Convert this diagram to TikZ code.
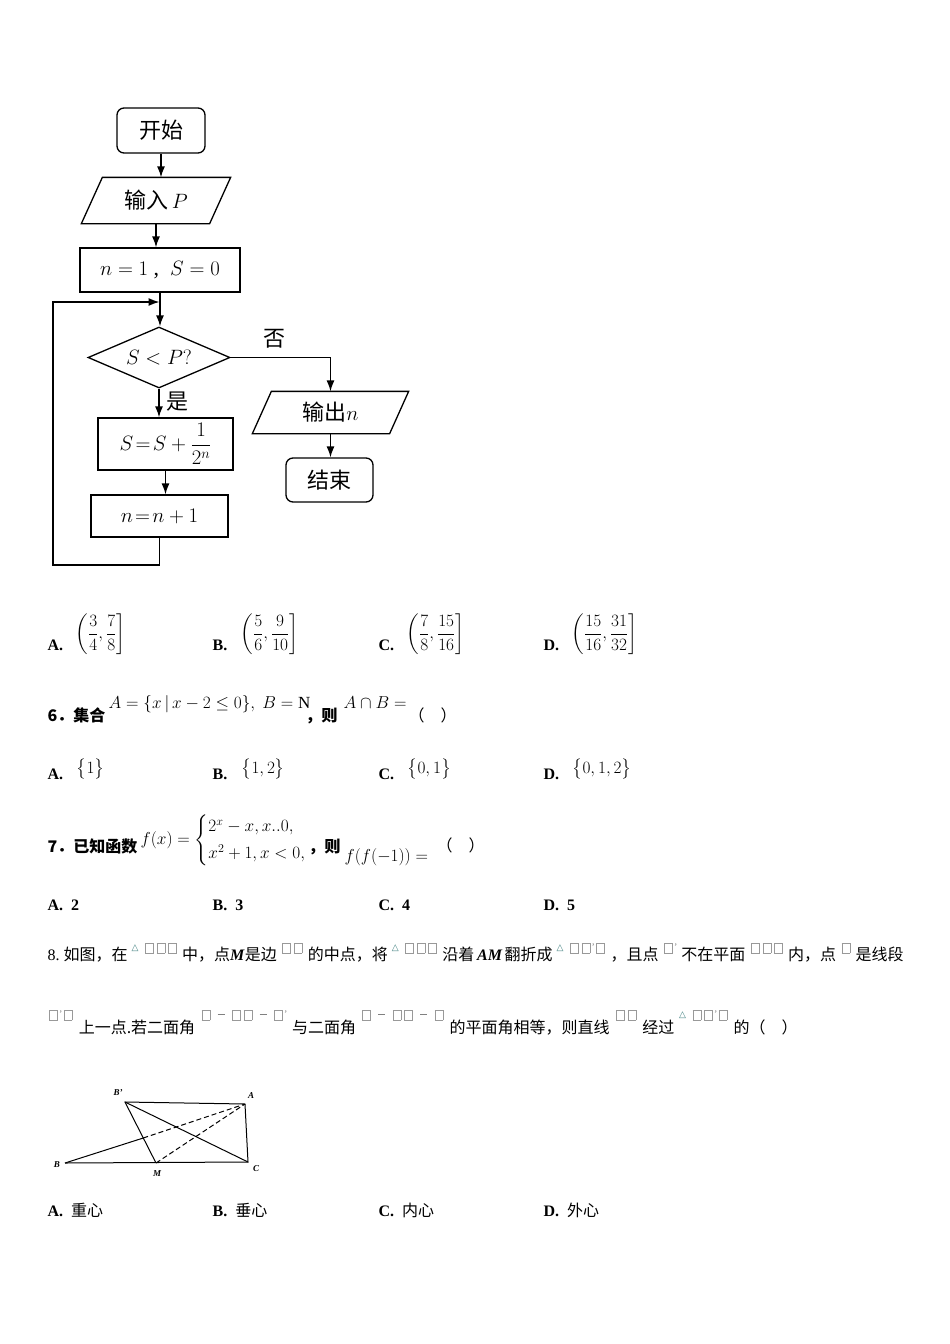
\documentclass[tikz,border=0pt]{standalone}
\usepackage{fontspec}
\usepackage{amsmath}
\usepackage{amssymb}
\usepackage{xcolor}
\usepackage{tikz}
\usetikzlibrary{shapes.geometric, arrows.meta}
\usetikzlibrary{calc}
\setmainfont{Liberation Serif}
\newfontfamily\cjk{Noto Sans CJK SC}
\newfontfamily\symf{DejaVu Sans}
\newcommand\fcfont{\fontsize{22}{26}\selectfont}
\newcommand\txtfont{\fontsize{16}{19}\selectfont}
\newcommand\mthfont{\fontsize{17}{20}\selectfont}
\newlength\gbraise
\newcommand\gb{\kern1.5pt\raisebox{\gbraise}{\fboxsep=0pt\fboxrule=0.5pt\fcolorbox{gray!80}{white}{\rule{0pt}{10pt}\rule{7.5pt}{0pt}}}\kern1.5pt}
\newcommand\tri{\raisebox{\dimexpr\gbraise+3pt}{\fontsize{9}{9}\selectfont\symf\color{teal!50!gray}△}\kern5pt}
\newcommand\gm{\hspace{6pt}{\color{gray}\rule[\dimexpr\gbraise+5pt]{7pt}{0.6pt}}\hspace{6pt}}
\newcommand\pr{\raisebox{\dimexpr\gbraise+3pt}{\fontsize{10}{10}\selectfont\color{gray}'}}
\newcommand\gl{\hspace{1pt plus 1fil}}

\begin{document}
\begin{tikzpicture}[x=1pt, y=-1pt, line width=1.3pt,
      arr/.style = {-{Latex[length=11pt,width=8pt]}},
      startstop/.style = {draw, rounded corners=7pt, font=\fcfont},
      iobox/.style = {minimum height=45pt, inner sep=0pt, font=\fcfont},
      procbox/.style = {draw, inner sep=0pt, font=\fcfont},
      decbox/.style = {draw, diamond, aspect=2.33, inner sep=0pt,
        minimum width=142pt, minimum height=61pt, font=\fcfont},
      txt/.style = {anchor=base west, inner sep=0pt, font=\txtfont},
      mth/.style = {inner sep=0pt, font=\mthfont},
      lbl/.style = {inner sep=0pt, font=\fontsize{9}{9}\selectfont\bfseries\itshape}]
  \useasboundingbox[fill=white] (0,0) rectangle (950,1344);

  % flowchart
  \node[startstop, minimum width=88pt, minimum height=45pt] (start) at (161,130.5) {\cjk 开始};
  \node[iobox, minimum width=127pt] (inp) at (156,200.5) {{\cjk 输入}\,$P$};
  \node[procbox, minimum width=160pt, minimum height=44pt] (init) at (160,270) {$n=1$\ ,\ \ $S=0$};
  \node[decbox] (dec) at (159,357.5) {$S<P?$};
  \node[procbox, minimum width=135pt, minimum height=52pt] (ss) at (165.5,444) {$S\!=\!S+\dfrac{1}{2^n}$};
  \node[procbox, minimum width=137pt, minimum height=42pt] (nn) at (159.5,516) {$n\!=\!n+1$};
  \node[iobox, minimum width=136pt, minimum height=41pt] (outp) at (330.5,412.5) {{\cjk 输出}$n$};
  \node[startstop, minimum width=87pt, minimum height=44pt] (stop) at (329.5,480) {\cjk 结束};
  \coordinate (lb) at (53,565);
  \coordinate (jn) at (159.5,302);

  \foreach \n/\s in {inp/10.5, outp/9.5}
    \draw ([xshift=-\s pt]\n.south west) -- ([xshift=-\s pt]\n.south east)
      -- ([xshift=\s pt]\n.north east) -- ([xshift=\s pt]\n.north west) -- cycle;
  \foreach \a/\b in {start/inp, inp/init, init/dec, ss/nn, outp/stop}
    \draw[arr] (\a.south) -- (\a.south |- \b.north);
  \draw[arr] (dec.south) -- (dec.south |- ss.north)
    node[pos=.45, right=4pt, font=\fcfont] (yes) {\cjk 是};
  \draw[arr] (dec.east) -| (outp.north)
    node[pos=.22, above=5pt, font=\fcfont] (no) {\cjk 否};
  \draw[arr] (nn.south) |- (lb) |- (jn);

  % question 5 options
  \foreach \l/\x/\f in {A/47/{\dfrac{3}{4},\dfrac{7}{8}}, B/212/{\dfrac{5}{6},\dfrac{9}{10}},
      C/378/{\dfrac{7}{8},\dfrac{15}{16}}, D/543/{\dfrac{15}{16},\dfrac{31}{32}}} {
    \node[txt] (q5\l) at (\x,650) {\textbf{\l.}};
    \node[mth, anchor=west] (q5\l f) at (\x+28,634) {$\left(\f\right]$};
  }

  % question 6
  \node[txt] (q6) at (47,721) {\cjk\bfseries 6．集合};
  \node[mth, anchor=base west] (q6a) at (108,708) {$A=\{x\,|\,x-2\le 0\},\ B=\mathrm{N}$};
  \node[txt] (q6b) at (305,721) {\cjk\bfseries ，则};
  \node[mth, anchor=base west] (q6c) at (343,708) {$A\cap B=$};
  \node[txt] (q6d) at (408,721) {\cjk （　）};
  \foreach \l/\x/\s in {A/47/{1}, B/212/{1,2}, C/378/{0,1}, D/543/{0,1,2}} {
    \node[txt] (q6\l) at (\x,779) {\textbf{\l.}};
    \node[mth, anchor=base west] (q6\l s) at (\x+29,773) {$\big\{\s\big\}$};
  }

  % question 7
  \node[txt] (q7) at (47,852) {\cjk\bfseries 7．已知函数};
  \node[mth, anchor=west] (q7f) at (140,840)
    {$f(x)=\begin{cases}2^x-x,x..0,\\[3pt] x^2+1,x<0,\end{cases}$};
  \node[txt] (q7b) at (308,852) {\cjk\bfseries ，则};
  \node[mth, anchor=base west] (q7c) at (344,861) {$f(f(-1))=$};
  \node[txt] (q7d) at (436,851) {\cjk （　）};
  \foreach \l/\x/\v in {A/47/2, B/212/3, C/378/4, D/543/5}
    \node[txt] (q7\l) at (\x,910) {\textbf{\l.}\hspace{8pt}\textbf{\v}};

  % question 8
  \node[txt] (q8a) at (47,960) {\setlength\gbraise{7pt}\makebox[856pt][s]{8.\hspace{4pt}%
    {\cjk 如图，在}\gl\tri\gb\gb\gb\gl{\cjk 中，点}\textbf{\textit{M}}{\cjk 是边}\gl\gb\gb\gl{\cjk 的中点，将}\gl\tri\gb\gb\gb\gl{\cjk 沿着}%
    \textbf{\textit{\,AM\,}}{\cjk 翻折成}\gl\tri\gb\gb\pr\gb\gl{\cjk ，且点}\gl\gb\pr\gl{\cjk 不在平面}\gl\gb\gb\gb\gl{\cjk 内，点}\gl\gb\gl{\cjk 是线段}}};
  \node[txt] (q8b) at (47,1033) {\setlength\gbraise{13pt}\makebox[750pt][s]{\gb\pr\gb\gl%
    {\cjk 上一点.若二面角}\gl\gb\gm\gb\gb\gm\gb\pr\gl{\cjk 与二面角}\gl\gb\gm\gb\gb\gm\gb\gl{\cjk 的平面角相等，则直线}\gl\gb\gb\gl{\cjk 经过}%
    \gl\tri\gb\gb\pr\gb\gl{\cjk 的（　）}}};

  \coordinate (B) at (65,1163);
  \coordinate (Bp) at (125,1102);
  \coordinate (A) at (245,1104);
  \coordinate (C) at (248,1162);
  \coordinate (M) at (156,1163);
  \coordinate (P) at ($(Bp)!0.59!(M)$);
  \begin{scope}[line width=1pt]
    \draw (B) -- (C) -- (A) -- (Bp) -- (M);
    \draw (Bp) -- (C);
    \draw (B) -- (P);
    \draw[dashed, dash pattern=on 5pt off 3pt] (P) -- (A) (M) -- (A);
  \end{scope}
  \node[lbl] (lBp) at (118,1093) {B'};
  \node[lbl] (lA) at (251,1096) {A};
  \node[lbl] (lB) at (57,1165) {B};
  \node[lbl] (lM) at (157,1174) {M};
  \node[lbl] (lC) at (256,1169) {C};

  \foreach \l/\x/\w in {A/47/重心, B/212/垂心, C/378/内心, D/543/外心}
    \node[txt] (q8\l) at (\x,1216) {\textbf{\l.}\hspace{8pt}{\cjk \w}};
\end{tikzpicture}
\end{document}
